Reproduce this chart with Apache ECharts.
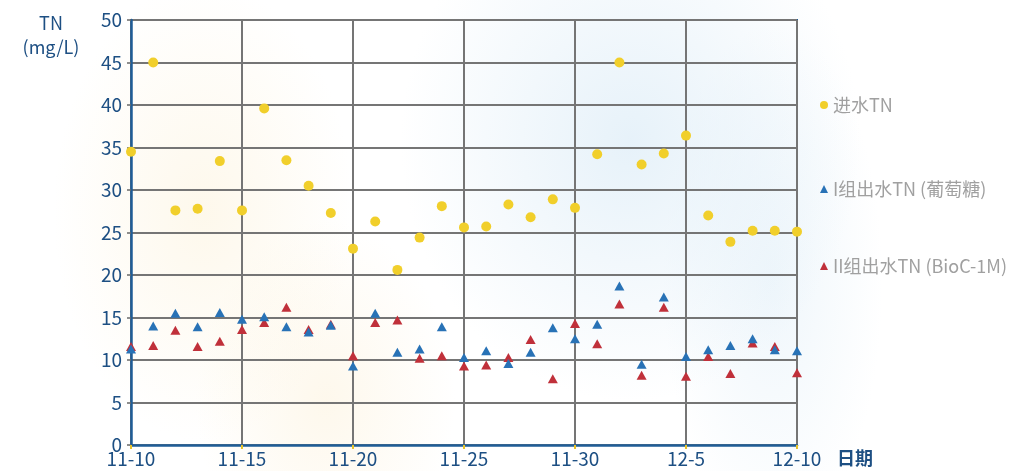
<!DOCTYPE html>
<html>
<head>
<meta charset="utf-8">
<script src="https://cdn.jsdelivr.net/npm/echarts@6/dist/echarts.min.js"></script>
<style>
  html, body { margin: 0; padding: 0; }
  body {
    width: 1017px; height: 471px;
    background:
      radial-gradient(ellipse 150px 230px at 20% 45%, rgba(252, 240, 212, 0.45), rgba(255,255,255,0) 100%),
      radial-gradient(ellipse 130px 180px at 32% 85%, rgba(252, 238, 208, 0.4), rgba(255,255,255,0) 100%),
      radial-gradient(ellipse 230px 260px at 62% 30%, rgba(220, 236, 247, 0.7), rgba(255,255,255,0) 100%),
      radial-gradient(ellipse 110px 260px at 76% 60%, rgba(220, 236, 247, 0.45), rgba(255,255,255,0) 100%),
      #ffffff;
  }
  #chart { width: 1017px; height: 471px; }
</style>
</head>
<body>
<div id="chart"></div>
<script>
  // dates 11-10 .. 12-10
  const days = [
    "11-10", "11-11", "11-12", "11-13", "11-14", "11-15", "11-16", "11-17", "11-18", "11-19",
    "11-20", "11-21", "11-22", "11-23", "11-24", "11-25", "11-26", "11-27", "11-28", "11-29",
    "11-30", "12-1", "12-2", "12-3", "12-4", "12-5", "12-6", "12-7", "12-8", "12-9", "12-10"
  ];

  // 进水TN
  const inflowTN = [
    34.5, 45.0, 27.6, 27.8, 33.4, 27.6, 39.6, 33.5, 30.5, 27.3,
    23.1, 26.3, 20.6, 24.4, 28.1, 25.6, 25.7, 28.3, 26.8, 28.9,
    27.9, 34.2, 45.0, 33.0, 34.3, 36.4, 27.0, 23.9, 25.2, 25.2, 25.1
  ];

  // I组出水TN (葡萄糖)
  const groupI = [
    11.3, 14.0, 15.5, 13.9, 15.6, 14.8, 15.1, 13.9, 13.3, 14.1,
    9.3, 15.5, 10.9, 11.3, 13.9, 10.3, 11.1, 9.6, 10.9, 13.8,
    12.5, 14.2, 18.7, 9.5, 17.4, 10.4, 11.2, 11.7, 12.5, 11.2, 11.1
  ];

  // II组出水TN (BioC-1M)
  const groupII = [
    11.6, 11.7, 13.5, 11.6, 12.2, 13.6, 14.4, 16.2, 13.6, 14.2,
    10.5, 14.4, 14.7, 10.2, 10.5, 9.3, 9.4, 10.3, 12.4, 7.8,
    14.3, 11.9, 16.6, 8.2, 16.2, 8.1, 10.4, 8.4, 12.0, 11.6, 8.5
  ];

  const chart = echarts.init(document.getElementById("chart"));

  const axisBlue = "#1f5d97";
  const labelBlue = "#1d4f83";
  const font = "'Noto Sans CJK SC', 'Noto Sans', sans-serif";

  const legendBase = {
    orient: "vertical",
    left: 815,
    itemWidth: 8,
    itemHeight: 8,
    itemGap: 10,
    textStyle: { color: "#a0a0a0", fontSize: 18, fontFamily: font }
  };

  const options = {
    animation: false,
    textStyle: { fontFamily: font },
    grid: {
      left: 131,
      right: 220,
      top: 20,
      bottom: 26,
      outerBoundsMode: "none",
      containLabel: false,
      show: true,
      borderColor: axisBlue,
      borderWidth: 2,
      backgroundColor: "transparent"
    },
    // y-axis unit label, top-left
    graphic: [
      {
        type: "text",
        x: 51,
        y: 11,
        style: {
          text: "TN\n(mg/L)",
          align: "center",
          verticalAlign: "top",
          fill: labelBlue,
          fontSize: 18,
          lineHeight: 24,
          fontFamily: font
        }
      }
    ],
    legend: [
      { ...legendBase, top: 91, data: [{ name: "进水TN", icon: "circle" }] },
      { ...legendBase, top: 175, data: [{ name: "I组出水TN (葡萄糖)", icon: "triangle" }] },
      { ...legendBase, top: 252, data: [{ name: "II组出水TN (BioC-1M)", icon: "triangle" }] }
    ],
    xAxis: {
      type: "category",
      data: days,
      boundaryGap: false,
      name: "日期",
      nameLocation: "end",
      nameGap: 40,
      nameTextStyle: {
        color: labelBlue,
        fontSize: 18,
        fontWeight: "bold",
        verticalAlign: "top",
        padding: [4, 0, 0, 0]
      },
      axisLine: { lineStyle: { color: axisBlue, width: 2.5 } },
      axisTick: {
        interval: 4,
        length: 4,
        lineStyle: { color: "#e8c42a", width: 2 }
      },
      axisLabel: {
        interval: 4,
        color: labelBlue,
        fontSize: 19,
        margin: 4
      },
      splitLine: {
        show: true,
        interval: 4,
        lineStyle: { color: "#757575", width: 2 }
      }
    },
    yAxis: {
      type: "value",
      min: 0,
      max: 50,
      interval: 5,
      axisLine: { show: true, lineStyle: { color: axisBlue, width: 2.5 } },
      axisTick: { show: true, length: 4, lineStyle: { color: "#6a6a6a", width: 1.5 } },
      axisLabel: { color: labelBlue, fontSize: 19, margin: 9 },
      splitLine: { lineStyle: { color: "#757575", width: 2 } }
    },
    series: [
      {
        name: "进水TN",
        type: "scatter",
        data: inflowTN,
        symbol: "circle",
        symbolSize: 10,
        itemStyle: { color: "#f1cf2b", opacity: 1 },
        z: 4
      },
      {
        name: "II组出水TN (BioC-1M)",
        type: "scatter",
        data: groupII,
        symbol: "triangle",
        symbolSize: [10, 9],
        itemStyle: { color: "#c0303a", opacity: 1 },
        z: 2
      },
      {
        name: "I组出水TN (葡萄糖)",
        type: "scatter",
        data: groupI,
        symbol: "triangle",
        symbolSize: [10, 9],
        itemStyle: { color: "#2872b6", opacity: 1 },
        z: 3
      }
    ]
  };

  chart.setOption(options);
</script>
</body>
</html>
